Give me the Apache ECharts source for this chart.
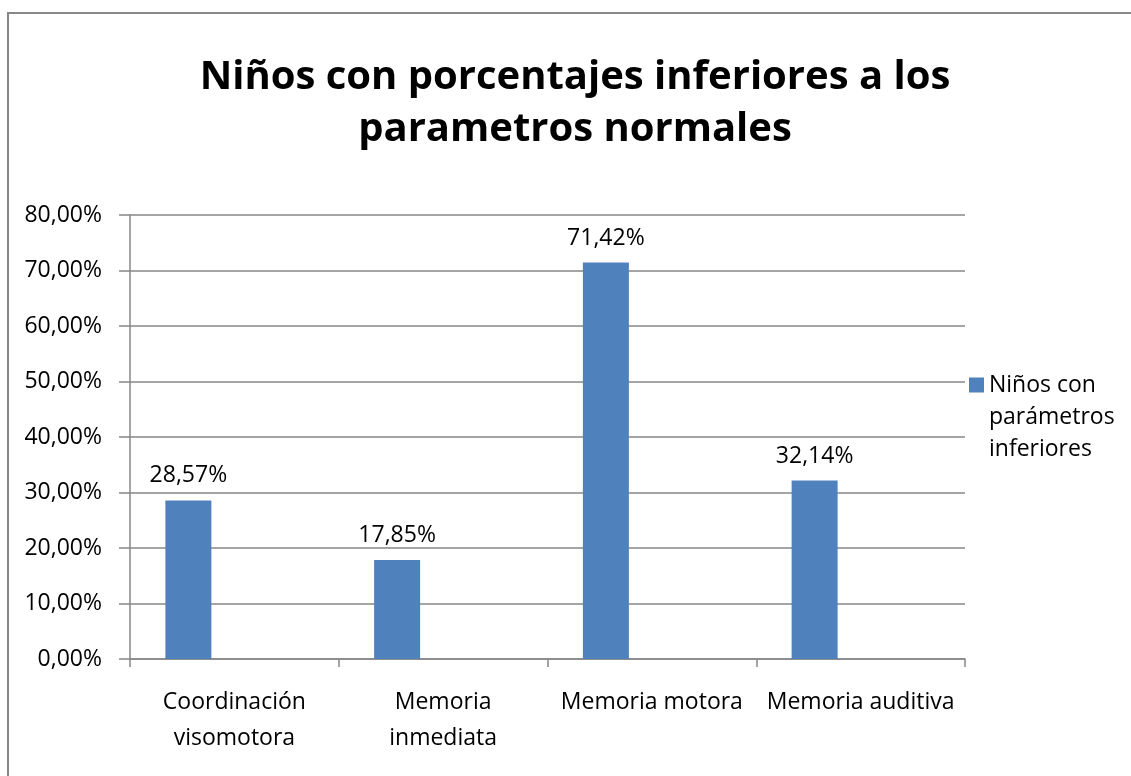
<!DOCTYPE html>
<html>
<head>
<meta charset="utf-8">
<script src="https://cdn.jsdelivr.net/npm/echarts@6/dist/echarts.min.js"></script>
<style>
  html, body { margin: 0; padding: 0; background: #fff; }
  #chart { width: 1131px; height: 776px; }
</style>
</head>
<body>
<div id="chart"></div>
<script>
const categories = ['Coordinación\nvisomotora', 'Memoria\ninmediata', 'Memoria motora', 'Memoria auditiva'];
const values = [28.57, 17.85, 71.42, 32.14];
const seriesName = 'Niños con parámetros inferiores';
const titleText = 'Niños con porcentajes inferiores a los\nparametros normales';

const FONT = '"Open Sans", sans-serif';
const GRAY = '#878787';

const fmtPct = (v) => v.toFixed(2).replace('.', ',') + '%';

const chart = echarts.init(document.getElementById('chart'));
chart.setOption({
  animation: false,
  textStyle: { fontFamily: FONT },
  title: {
    text: titleText,
    left: 575,
    textAlign: 'center',
    top: 52,
    padding: 0,
    textStyle: {
      fontFamily: FONT,
      fontSize: 40,
      fontWeight: 'bold',
      lineHeight: 52,
      color: '#000'
    }
  },
  graphic: [{
    type: 'rect',
    shape: { x: 8, y: 13, width: 1200, height: 900 },
    style: { fill: 'none', stroke: GRAY, lineWidth: 2 },
    silent: true
  }],
  legend: {
    data: [seriesName],
    orient: 'vertical',
    left: 969,
    top: 305,
    padding: 0,
    itemWidth: 15,
    itemHeight: 15,
    icon: 'rect',
    formatter: () => '\n\nNiños con\nparámetros\ninferiores',
    textStyle: { fontFamily: FONT, fontSize: 23, lineHeight: 32, color: '#000' }
  },
  grid: { left: 130, right: 166, top: 215, bottom: 117 },
  xAxis: {
    type: 'category',
    data: categories,
    axisLine: { lineStyle: { color: GRAY, width: 1.5 } },
    axisTick: { show: true, length: 8, lineStyle: { color: GRAY, width: 1.5 } },
    axisLabel: {
      interval: 0,
      margin: 25,
      fontFamily: FONT,
      fontSize: 23,
      lineHeight: 36,
      color: '#000'
    }
  },
  yAxis: {
    type: 'value',
    min: 0,
    max: 80,
    interval: 10,
    axisLine: { show: true, lineStyle: { color: GRAY, width: 1.5 } },
    axisTick: { show: true, length: 11, lineStyle: { color: GRAY, width: 1.5 } },
    splitLine: { lineStyle: { color: GRAY, width: 1.5 } },
    axisLabel: {
      margin: 28,
      fontFamily: FONT,
      fontSize: 23,
      color: '#000',
      formatter: (v) => fmtPct(v)
    }
  },
  series: [
    {
      name: seriesName,
      type: 'bar',
      data: values,
      barWidth: 46,
      barGap: 0,
      itemStyle: { color: '#4F81BD' },
      label: {
        show: true,
        position: 'top',
        distance: 13,
        fontFamily: FONT,
        fontSize: 23,
        color: '#000',
        formatter: (p) => fmtPct(p.value)
      }
    },
    { name: 'b', type: 'bar', data: [], barWidth: 46 },
    { name: 'c', type: 'bar', data: [], barWidth: 46 }
  ]
});
</script>
</body>
</html>
